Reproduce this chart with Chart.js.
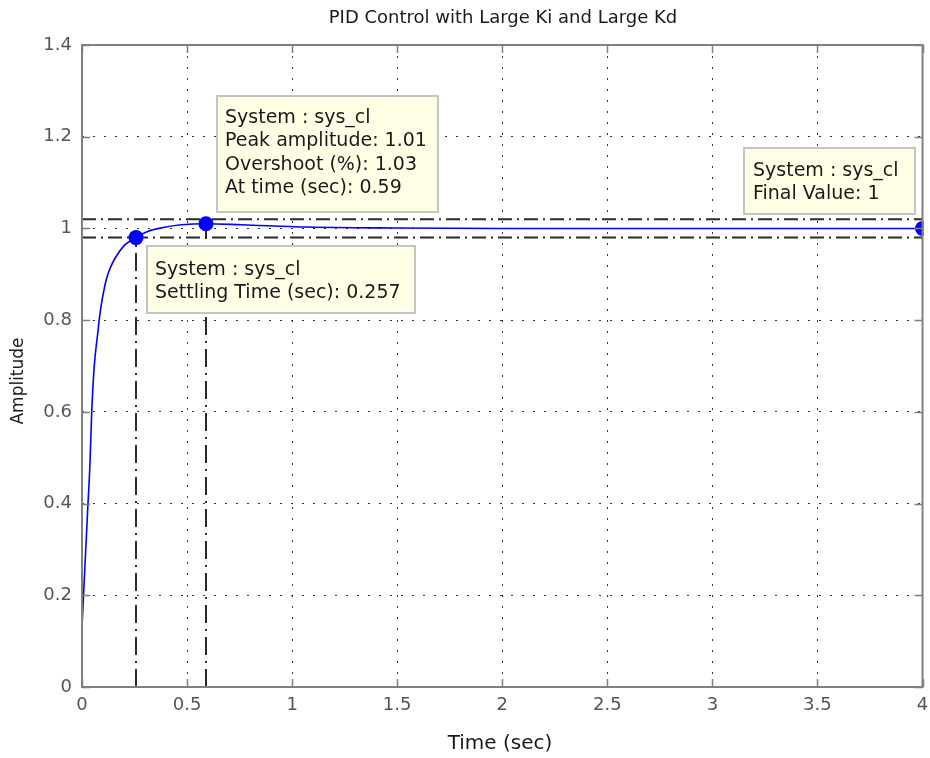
<!DOCTYPE html>
<html>
<head>
<meta charset="utf-8">
<script src="https://cdn.jsdelivr.net/npm/chart.js@4"></script>
<style>
  html, body { margin: 0; padding: 0; background: #fff; }
  #wrap { width: 930px; height: 758px; }
</style>
</head>
<body>
<div id="wrap"><canvas id="stepChart" width="930" height="758"></canvas></div>
<script>
// --- Step response ---
const timeSec = [0, 0.013, 0.027, 0.038, 0.046, 0.058, 0.075, 0.086, 0.109, 0.125, 0.157, 0.204, 0.257, 0.31, 0.386, 0.473, 0.59, 0.76, 1.07, 1.5, 2, 2.5, 3, 3.5, 4];
const amplitude = [0.13, 0.255, 0.386, 0.488, 0.597, 0.698, 0.772, 0.816, 0.876, 0.903, 0.935, 0.964, 0.98, 0.993, 1.002, 1.008, 1.0103, 1.008, 1.003, 1.001, 1.0, 1.0, 1.0, 1.0, 1.0];

// characteristic points (settling, peak, final)
const markerTimes = [0.257, 0.59, 4];
const markerValues = [0.98, 1.0103, 1];
const settleBand = [0.98, 1.02];

// axes
const xTicks = [0, 0.5, 1, 1.5, 2, 2.5, 3, 3.5, 4];
const yTicks = [0, 0.2, 0.4, 0.6, 0.8, 1, 1.2, 1.4];

// data tip text
const tipSettle = ['System : sys_cl', 'Settling Time (sec): 0.257'];
const tipPeak = ['System : sys_cl', 'Peak amplitude: 1.01', 'Overshoot (%): 1.03', 'At time (sec): 0.59'];
const tipFinal = ['System : sys_cl', 'Final Value: 1'];

const FONT = '"DejaVu Sans", sans-serif';
const dashDot = [14, 5, 2, 5];

const curve = timeSec.map((t, i) => ({ x: t, y: amplitude[i] }));
const hLine = v => [{ x: 0, y: v }, { x: 4, y: v }];
const vLine = i => [{ x: markerTimes[i], y: 0 }, { x: markerTimes[i], y: markerValues[i] }];

// Frame, inward ticks, title, axis labels and data tips
const matlabDecor = {
  id: 'matlabDecor',
  afterDatasetsDraw(chart) {
    const { ctx, chartArea: a, scales: { x, y } } = chart;
    ctx.save();
    ctx.setLineDash([]);
    // inward tick marks
    ctx.strokeStyle = '#7f7f7f';
    ctx.lineWidth = 1.5;
    ctx.beginPath();
    xTicks.forEach(v => {
      const px = Math.round(x.getPixelForValue(v)) + 0.5;
      ctx.moveTo(px, a.bottom); ctx.lineTo(px, a.bottom - 8);
      ctx.moveTo(px, a.top); ctx.lineTo(px, a.top + 8);
    });
    yTicks.forEach(v => {
      const py = Math.round(y.getPixelForValue(v)) + 0.5;
      ctx.moveTo(a.left, py); ctx.lineTo(a.left + 8, py);
      ctx.moveTo(a.right, py); ctx.lineTo(a.right - 8, py);
    });
    ctx.stroke();
    // frame
    ctx.lineWidth = 2;
    ctx.strokeStyle = '#808080';
    ctx.strokeRect(a.left, a.top, a.right - a.left, a.bottom - a.top);

    // data tips
    const tip = (x0, y0, w, h, lines, tx, ty) => {
      ctx.fillStyle = '#ffffe5';
      ctx.fillRect(x0, y0, w, h);
      ctx.strokeStyle = '#c4c4c4';
      ctx.lineWidth = 2;
      ctx.strokeRect(x0, y0, w, h);
      ctx.fillStyle = '#1a1a1a';
      ctx.font = '19px ' + FONT;
      ctx.textAlign = 'left';
      ctx.textBaseline = 'middle';
      lines.forEach((s, i) => ctx.fillText(s, tx, ty + i * 23.5));
    };
    tip(217, 96, 221, 116, tipPeak, 225, 118);
    tip(147, 246, 268, 67, tipSettle, 155, 270);
    tip(744, 148, 171, 66, tipFinal, 753, 171);

    // title and axis labels
    ctx.fillStyle = '#1a1a1a';
    ctx.textAlign = 'center';
    ctx.textBaseline = 'middle';
    ctx.font = '18px ' + FONT;
    ctx.fillText('PID Control with Large Ki and Large Kd', 503, 18);
    ctx.font = '20px ' + FONT;
    ctx.fillText('Time (sec)', 500, 744);
    ctx.save();
    ctx.translate(19, 381);
    ctx.rotate(-Math.PI / 2);
    ctx.font = '17px ' + FONT;
    ctx.fillText('Amplitude', 0, 0);
    ctx.restore();
    ctx.restore();
  }
};

const ctx = document.getElementById('stepChart').getContext('2d');
new Chart(ctx, {
  type: 'line',
  data: {
    datasets: [
      { data: markerTimes.map((t, i) => ({ x: t, y: markerValues[i] })), showLine: false,
        pointRadius: 7.5, pointBackgroundColor: '#0000ff', pointBorderColor: '#0000ff', pointBorderWidth: 0,
        order: 0, clip: 1 },
      { data: curve, borderColor: '#0000ff', borderWidth: 1.6, pointRadius: 0,
        cubicInterpolationMode: 'monotone', order: 1 },
      { data: hLine(settleBand[0]), borderColor: '#2a2a2a', borderWidth: 2, borderDash: dashDot, pointRadius: 0, order: 2 },
      { data: hLine(settleBand[1]), borderColor: '#2a2a2a', borderWidth: 2, borderDash: dashDot, pointRadius: 0, order: 2 },
      { data: vLine(0), borderColor: '#2a2a2a', borderWidth: 2, borderDash: [18, 6, 2, 6], pointRadius: 0, order: 2 },
      { data: vLine(1), borderColor: '#2a2a2a', borderWidth: 2, borderDash: [18, 6, 2, 6], pointRadius: 0, order: 2 }
    ]
  },
  options: {
    responsive: false,
    animation: false,
    layout: { padding: { top: 45, right: 6, left: 0, bottom: 0 } },
    plugins: { legend: { display: false }, tooltip: { enabled: false }, title: { display: false } },
    scales: {
      x: {
        type: 'linear', min: 0, max: 4,
        afterFit: s => { s.height = 71; s.paddingRight = 0; s.paddingLeft = 0; },
        afterBuildTicks: s => { s.ticks = xTicks.map(v => ({ value: v })); },
        grid: { color: '#333', lineWidth: 1, drawTicks: false, tickLength: 0 },
        border: { display: false, dash: [2, 9] },
        ticks: { padding: 8, color: '#555', font: { family: FONT, size: 18 }, maxRotation: 0,
                 callback: v => String(v) }
      },
      y: {
        min: 0, max: 1.4,
        afterFit: s => { s.width = 82; s.paddingTop = 0; s.paddingBottom = 0; },
        afterBuildTicks: s => { s.ticks = yTicks.map(v => ({ value: v })); },
        grid: { color: '#333', lineWidth: 1, drawTicks: false, tickLength: 0 },
        border: { display: false, dash: [2, 9] },
        ticks: { padding: 10, color: '#555', font: { family: FONT, size: 18 }, callback: v => String(v) }
      }
    }
  },
  plugins: [matlabDecor]
});
</script>
</body>
</html>
